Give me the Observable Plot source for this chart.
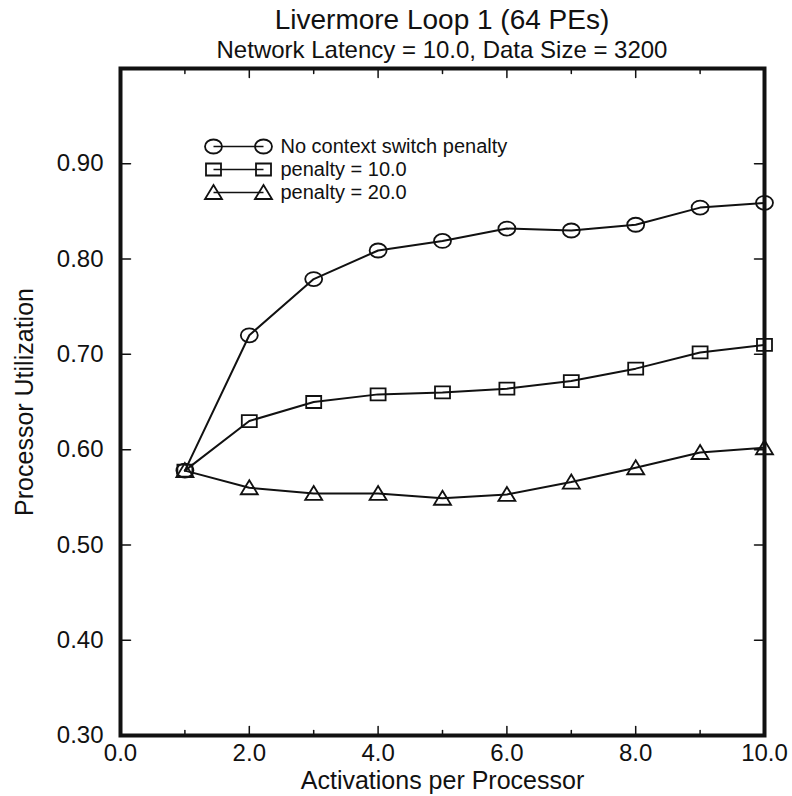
<!DOCTYPE html>
<html><head><meta charset="utf-8">
<script src="https://cdn.jsdelivr.net/npm/d3@7"></script>
<script src="https://cdn.jsdelivr.net/npm/@observablehq/plot@0.6"></script>
<style>
body{margin:0;background:#fff;font-family:"Liberation Sans",Arial,sans-serif;color:#111;}
#wrap{position:relative;width:792px;height:796px;overflow:hidden;background:#fff;}
.t,.s{position:absolute;left:120px;width:644px;text-align:center;white-space:nowrap;}
.t{top:4px;font-size:28px;line-height:31px;}
.s{top:35.5px;font-size:24px;line-height:27px;}
#chart{position:absolute;left:0;top:58px;}
</style></head><body>
<div id="wrap">
  <div id="chart"></div>
  <div class="t">Livermore Loop 1 (64 PEs)</div>
  <div class="s">Network Latency = 10.0, Data Size = 3200</div>
</div>
<script>
// ---- data ----
const activations = [1, 2, 3, 4, 5, 6, 7, 8, 9, 10];
const noPenalty  = [0.578, 0.720, 0.779, 0.809, 0.819, 0.832, 0.830, 0.836, 0.854, 0.859];
const penalty10  = [0.578, 0.630, 0.650, 0.658, 0.660, 0.664, 0.672, 0.685, 0.702, 0.710];
const penalty20  = [0.578, 0.560, 0.554, 0.554, 0.549, 0.553, 0.566, 0.581, 0.597, 0.602];
const seriesNames = ["No context switch penalty", "penalty = 10.0", "penalty = 20.0"];
const xMajorTicks = [0, 2, 4, 6, 8, 10];
const xMinorTicks = [1, 3, 5, 7, 9];
const yTicks = [0.3, 0.4, 0.5, 0.6, 0.7, 0.8, 0.9];
const xLabel = "Activations per Processor";
const yLabel = "Processor Utilization";

// ---- symbols ----
const ellipse = {draw(c) {
  const rx = 8.5, ry = 7, k = 0.5523;
  c.moveTo(rx, 0);
  c.bezierCurveTo(rx, ry * k, rx * k, ry, 0, ry);
  c.bezierCurveTo(-rx * k, ry, -rx, ry * k, -rx, 0);
  c.bezierCurveTo(-rx, -ry * k, -rx * k, -ry, 0, -ry);
  c.bezierCurveTo(rx * k, -ry, rx, -ry * k, rx, 0);
  c.closePath();
}};
const box = {draw(c) { c.rect(-7.5, -6, 15, 12); }};
const tri = {draw(c) { c.moveTo(0, -7.5); c.lineTo(8.5, 6.5); c.lineTo(-8.5, 6.5); c.closePath(); }};
const hline = {draw(c) { c.moveTo(-25, 0); c.lineTo(25, 0); }};
const tickShape = {draw(c, l) { c.moveTo(0, 0); c.lineTo(0, -l); }};
const symbols = [ellipse, box, tri];

const seriesValues = [noPenalty, penalty10, penalty20];
const rows = seriesValues.map((vals, s) => activations.map((a, i) => ({x: a, y: vals[i], s})));

const ink = "#111";
const marks = [];
rows.forEach((r, s) => {
  marks.push(Plot.line(r, {x: "x", y: "y", stroke: ink, strokeWidth: 2}));
  marks.push(Plot.dot(r, {x: "x", y: "y", symbol: symbols[s], stroke: ink, strokeWidth: 1.8, fill: "none"}));
});

// legend
seriesNames.forEach((name, s) => {
  const dy = 78 + 23 * s;
  marks.push(Plot.dot([name], {frameAnchor: "top-left", dx: 118, dy, symbol: hline, stroke: ink, strokeWidth: 1.5}));
  marks.push(Plot.dot([name], {frameAnchor: "top-left", dx: 93, dy, symbol: symbols[s], stroke: ink, strokeWidth: 1.8, fill: "none"}));
  marks.push(Plot.dot([name], {frameAnchor: "top-left", dx: 143, dy, symbol: symbols[s], stroke: ink, strokeWidth: 1.8, fill: "none"}));
  marks.push(Plot.text([name], {text: d => d, frameAnchor: "top-left", dx: 160, dy, textAnchor: "start", lineAnchor: "middle", fontSize: 20, fill: ink}));
});

// inward ticks
const tk = (data, o) => Plot.vector(data, {anchor: "start", shape: tickShape, stroke: ink, strokeWidth: 1.5, ...o});
marks.push(
  tk(xMajorTicks, {x: d => d, frameAnchor: "bottom", rotate: 0, length: 9}),
  tk(xMinorTicks, {x: d => d, frameAnchor: "bottom", rotate: 0, length: 5}),
  tk(xMajorTicks, {x: d => d, frameAnchor: "top", rotate: 180, length: 9}),
  tk(xMinorTicks, {x: d => d, frameAnchor: "top", rotate: 180, length: 5}),
  tk(yTicks, {y: d => d, frameAnchor: "left", rotate: 90, length: 10}),
  tk(yTicks, {y: d => d, frameAnchor: "right", rotate: -90, length: 10})
);

marks.push(
  Plot.frame({stroke: ink, strokeWidth: 4}),
  Plot.axisX({ticks: xMajorTicks, tickFormat: d3.format(".1f"), tickSize: 0, tickPadding: 8, fontSize: 24, label: null}),
  Plot.axisY({ticks: yTicks, tickFormat: d3.format(".2f"), tickSize: 0, tickPadding: 17, fontSize: 24, label: null}),
  Plot.text([xLabel], {text: d => d, frameAnchor: "bottom", dy: 53, lineAnchor: "bottom", textAnchor: "middle", fontSize: 25, fill: ink}),
  Plot.text([yLabel], {text: d => d, frameAnchor: "left", dx: -96, rotate: -90, textAnchor: "middle", lineAnchor: "middle", fontSize: 25, fill: ink})
);

const chart = Plot.plot({
  width: 792,
  height: 738,
  marginLeft: 120,
  marginRight: 28,
  marginTop: 10,
  marginBottom: 61,
  style: {fontFamily: "'Liberation Sans', Arial, sans-serif", color: ink, background: "none", overflow: "visible"},
  x: {domain: [0, 10]},
  y: {domain: [0.3, 1.0]},
  marks
});
document.getElementById("chart").appendChild(chart);
</script>
</body></html>
